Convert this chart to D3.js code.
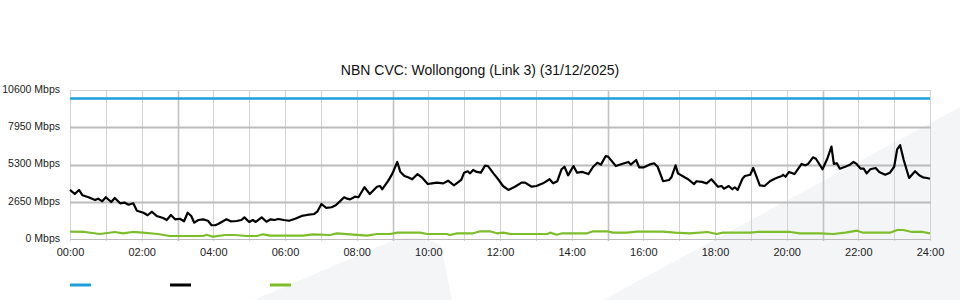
<!DOCTYPE html>
<html>
<head>
<meta charset="utf-8">
<script src="https://cdn.jsdelivr.net/npm/d3@7"></script>
<style>
  body { margin: 0; background: #fff; }
  svg { display: block; font-family: "Liberation Sans", Arial, sans-serif; }
  .axis text { font-size: 11px; fill: #222; }
  .axis-y text { font-size: 10.5px; }
  .title { font-size: 14px; fill: #111; }
</style>
</head>
<body>
<div class="chart-container"></div>
<script>
"use strict";

// Axis ticks
const yTicks = [0, 2650, 5300, 7950, 10600];
const xTicks = [0, 120, 240, 360, 480, 600, 720, 840, 960, 1080, 1200, 1320, 1440];
const xTickLabels = ["00:00", "02:00", "04:00", "06:00", "08:00", "10:00", "12:00",
  "14:00", "16:00", "18:00", "20:00", "22:00", "24:00"];

// Series: [minute of day, Mbps]
const capacity = [[0, 10000], [1440, 10000]];

const traffic = [
  [0, 3490], [8, 3200], [15, 3490], [21, 3110], [31, 2970], [42, 2770], [47, 2870],
  [54, 2680], [60, 2970], [69, 2630], [75, 2920], [84, 2540], [91, 2590], [98, 2440],
  [106, 2540], [112, 2010], [123, 1870], [130, 1690], [137, 1940], [145, 1640],
  [156, 1490], [162, 1350], [169, 1710], [176, 1400], [184, 1440], [191, 1260],
  [197, 1870], [203, 1640], [208, 1160], [215, 1350], [223, 1400], [231, 1300],
  [237, 980], [243, 980], [248, 1070], [262, 1400], [269, 1260], [279, 1280],
  [287, 1350], [292, 1540], [300, 1210], [306, 1350], [311, 1210], [321, 1540],
  [329, 1230], [336, 1400], [342, 1350], [349, 1420], [358, 1350], [367, 1300],
  [377, 1440], [388, 1640], [397, 1710], [409, 1780], [414, 1940], [421, 2490],
  [429, 2210], [438, 2260], [445, 2400], [452, 2680], [459, 2970], [464, 2870],
  [469, 2820], [477, 3010], [483, 2970], [493, 3680], [502, 3200], [514, 3720],
  [519, 3770], [523, 3540], [533, 4150], [540, 4670], [548, 5480], [553, 4790],
  [560, 4480], [566, 4390], [573, 4250], [582, 4620], [589, 4390], [599, 3910],
  [606, 3960], [614, 4010], [625, 3960], [633, 4150], [643, 3820], [655, 4200],
  [660, 4720], [666, 4820], [670, 4670], [675, 4910], [681, 4770], [688, 4720],
  [695, 5220], [700, 5190], [709, 4670], [717, 4250], [725, 3770], [734, 3490],
  [745, 3720], [756, 4010], [762, 4010], [773, 3720], [781, 3770], [792, 3960],
  [803, 4250], [809, 3960], [816, 4110], [823, 4960], [828, 5140], [834, 4530],
  [843, 5190], [849, 4720], [858, 4770], [868, 4620], [876, 5140], [883, 5430],
  [889, 5290], [897, 5900], [901, 5860], [914, 5190], [924, 5340], [935, 5480],
  [939, 5290], [948, 5620], [953, 5100], [961, 5100], [970, 5290], [978, 5390],
  [984, 5140], [993, 4110], [1003, 4200], [1007, 4390], [1014, 5240], [1018, 4670],
  [1029, 4390], [1035, 4250], [1045, 3910], [1049, 4110], [1058, 4060], [1066, 3960],
  [1074, 4250], [1085, 3720], [1091, 3770], [1095, 3580], [1103, 3770], [1109, 3540],
  [1113, 3680], [1118, 3490], [1126, 4290], [1130, 4480], [1139, 4570], [1144, 5050],
  [1150, 4390], [1155, 3820], [1163, 3770], [1172, 4110], [1180, 4290], [1186, 4390],
  [1192, 4480], [1194, 4570], [1198, 4430], [1204, 4770], [1213, 4620], [1225, 5340],
  [1231, 5240], [1236, 5340], [1244, 5810], [1249, 5710], [1260, 4960], [1268, 5710],
  [1275, 6570], [1279, 5340], [1284, 5390], [1289, 5000], [1298, 5140], [1306, 5290],
  [1312, 5480], [1317, 5340], [1324, 5000], [1329, 5000], [1334, 4670], [1340, 4960],
  [1349, 5050], [1355, 4770], [1365, 4570], [1373, 4720], [1380, 5140], [1385, 6380],
  [1390, 6670], [1396, 5620], [1405, 4340], [1415, 4820], [1422, 4530], [1428, 4390],
  [1435, 4340], [1440, 4290]
];

const upload = [
  [0, 520], [25, 500], [50, 355], [75, 500], [89, 405], [104, 500], [122, 450],
  [147, 355], [167, 213], [223, 213], [229, 306], [239, 165], [260, 285], [276, 285],
  [296, 213], [313, 213], [323, 334], [335, 235], [390, 235], [407, 334], [435, 285],
  [447, 405], [497, 235], [514, 355], [536, 355], [548, 450], [586, 450], [598, 355],
  [631, 355], [636, 285], [648, 405], [675, 405], [687, 548], [703, 548], [715, 405],
  [725, 450], [737, 355], [799, 355], [804, 450], [815, 306], [824, 405], [866, 405],
  [876, 548], [899, 548], [909, 450], [933, 450], [949, 520], [993, 520], [1013, 450],
  [1038, 405], [1067, 500], [1083, 355], [1093, 450], [1139, 450], [1150, 500],
  [1206, 500], [1222, 405], [1256, 405], [1278, 355], [1298, 450], [1318, 590],
  [1328, 450], [1373, 450], [1385, 640], [1395, 640], [1410, 500], [1428, 500],
  [1440, 405]
];

const seriesColors = ["#1e9fdc", "#000000", "#7cbd2a"];

drawChart();

function drawChart() {
  const width = 960;
  const height = 300;
  const left = 70;
  const right = 930;
  const top = 90;
  const bottom = 239;

  const svg = d3.select(".chart-container")
    .append("svg")
      .attr("width", width)
      .attr("height", height);

  // Faint background watermark shapes
  svg.append("path")
    .attr("d", "M254,300 L392,241 Q420,232 441,246 L452,300 Z")
    .attr("fill", "#f4f5f7");
  svg.append("path")
    .attr("d", "M603,300 L960,107 L960,300 Z")
    .attr("fill", "#f4f5f7");

  const xScale = d3.scaleLinear()
    .domain([0, 1440])
    .range([left, right]);

  const yScale = d3.scaleLinear()
    .domain([0, 10600])
    .range([bottom, top]);

  // Vertical hourly grid, slightly heavier every 6 hours from 03:00
  const hours = d3.range(0, 1441, 60);
  svg.append("g")
    .selectAll("line")
    .data(hours)
    .join("line")
      .attr("x1", d => Math.round(xScale(d)) + 0.5)
      .attr("x2", d => Math.round(xScale(d)) + 0.5)
      .attr("y1", top)
      .attr("y2", bottom + 2)
      .attr("stroke", d => (d / 60) % 6 === 3 ? "#c2c2c2" : "#d2d2d2")
      .attr("stroke-width", d => (d / 60) % 6 === 3 ? 1.6 : 1);

  // Horizontal grid
  svg.append("g")
    .selectAll("line")
    .data(yTicks)
    .join("line")
      .attr("x1", left)
      .attr("x2", right + 1)
      .attr("y1", d => Math.round(yScale(d)) + 0.5)
      .attr("y2", d => Math.round(yScale(d)) + 0.5)
      .attr("stroke", d => d === 10600 ? "#d2d2d2" : "#bcbcbc")
      .attr("stroke-width", d => d === 10600 || d === 0 ? 1 : 2);

  // Axes (labels only)
  const yAxis = d3.axisLeft(yScale)
    .tickValues(yTicks)
    .tickFormat(d => `${d} Mbps`)
    .tickSize(0)
    .tickPadding(10);

  svg.append("g")
    .attr("class", "axis axis-y")
    .attr("transform", `translate(${left}, -1)`)
    .call(yAxis)
    .call(g => g.select(".domain").remove());

  const xAxis = d3.axisBottom(xScale)
    .tickValues(xTicks)
    .tickFormat((d, i) => xTickLabels[i])
    .tickSize(0)
    .tickPadding(9);

  svg.append("g")
    .attr("class", "axis axis-x")
    .attr("transform", `translate(0, ${bottom})`)
    .call(xAxis)
    .call(g => g.select(".domain").remove());

  // Lines
  const lineGenerator = d3.line()
    .x(d => xScale(d[0]))
    .y(d => yScale(d[1]));

  [capacity, traffic, upload].forEach((series, i) => {
    svg.append("path")
      .attr("d", lineGenerator(series))
      .attr("fill", "none")
      .attr("stroke", seriesColors[i])
      .attr("stroke-width", i === 0 ? 2.5 : 2.2)
      .attr("stroke-linejoin", "round");
  });

  // Title
  svg.append("text")
    .attr("class", "title")
    .attr("x", 480)
    .attr("y", 75)
    .attr("text-anchor", "middle")
    .text("NBN CVC: Wollongong (Link 3) (31/12/2025)");

  // Legend swatches
  svg.append("g")
    .selectAll("line")
    .data(seriesColors)
    .join("line")
      .attr("x1", (d, i) => 70 + i * 100)
      .attr("x2", (d, i) => 91 + i * 100)
      .attr("y1", 285)
      .attr("y2", 285)
      .attr("stroke", d => d)
      .attr("stroke-width", 3);
}
</script>
</body>
</html>
